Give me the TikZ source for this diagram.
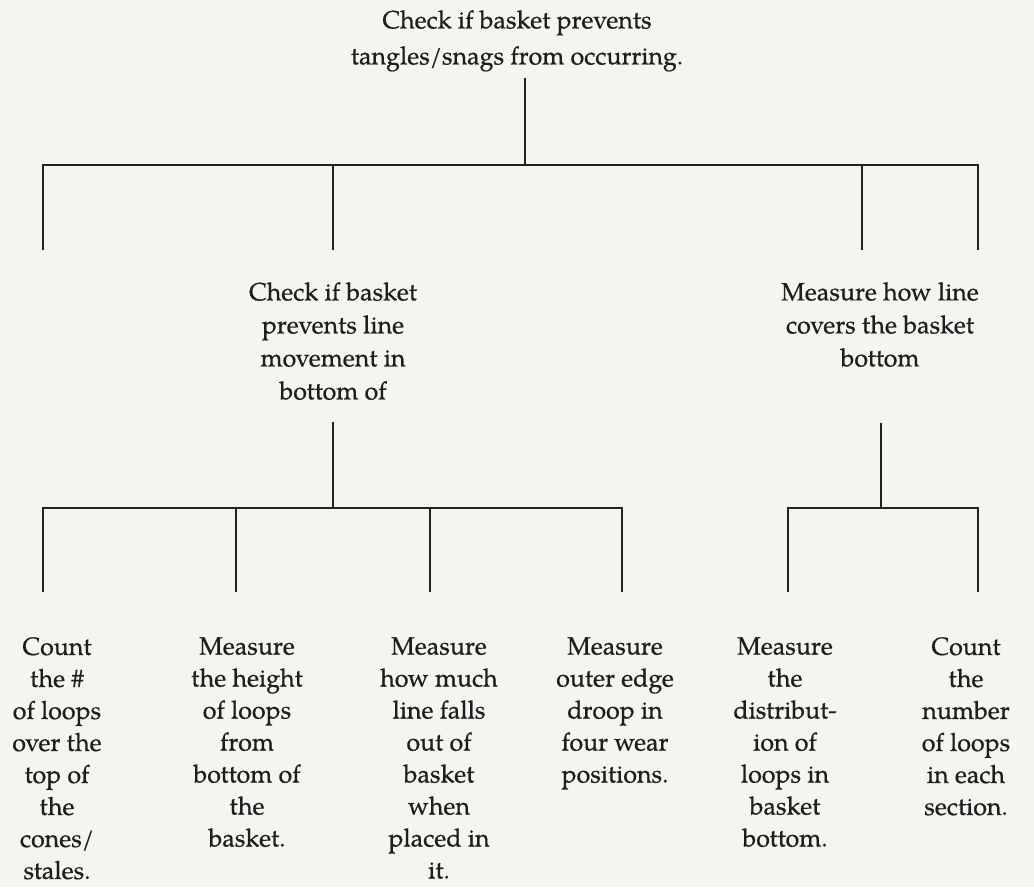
\documentclass[tikz,border=0pt]{standalone}
\usepackage{fontspec}
\setmainfont{TeX Gyre Pagella}[FakeBold=0.6]
\definecolor{bgcol}{RGB}{244,244,240}
\definecolor{inkcol}{RGB}{34,34,34}
\definecolor{txtcol}{RGB}{30,30,30}
\begin{document}
\begin{tikzpicture}[x=1pt,y=-1pt,
  conn/.style={draw=inkcol, line width=2.4pt, line cap=butt},
  lbl/.style={align=center, inner sep=0pt, text=txtcol, font=\fontsize{25}{32}\selectfont},
  midl/.style={lbl, font=\fontsize{25}{33}\selectfont},
  ttl/.style={lbl, font=\fontsize{25}{36}\selectfont}]
\fill[bgcol] (0,0) rectangle (1034,887);
\useasboundingbox (0,0) rectangle (1034,887);
% texts
\node[ttl, anchor=north] (root) at (517,10) {Check if basket prevents\\tangles/snags from occurring.};
\node[midl, anchor=north] (mid1) at (333,282) {Check if basket\\prevents line\\movement in\\bottom of};
\node[midl, anchor=north] (mid2) at (880,282) {Measure how line\\covers the basket\\bottom};
\node[lbl, anchor=north] (l1) at (57,637) {Count\\the \#\\of loops\\over the\\top of\\the\\cones/\\stales.};
\node[lbl, anchor=north] (l2) at (247,637) {Measure\\the height\\of loops\\from\\bottom of\\the\\basket.};
\node[lbl, anchor=north] (l3) at (439,637) {Measure\\how much\\line falls\\out of\\basket\\when\\placed in\\it.};
\node[lbl, anchor=north] (l4) at (615,637) {Measure\\outer edge\\droop in\\four wear\\positions.};
\node[lbl, anchor=north] (l5) at (785,637) {Measure\\the\\distribut-\\ion of\\loops in\\basket\\bottom.};
\node[lbl, anchor=north] (l6) at (966,637) {Count\\the\\number\\of loops\\in each\\section.};
% junction coordinates
\coordinate (rt) at (525,78);
\coordinate (rj) at (525,165);
\coordinate (ra) at (43,165);  \coordinate (rae) at (43,250);
\coordinate (rb) at (333,165); \coordinate (rbe) at (333,250);
\coordinate (rc) at (862,165); \coordinate (rce) at (862,250);
\coordinate (rd) at (978,165); \coordinate (rde) at (978,250);
\coordinate (m1t) at (333,422); \coordinate (m1j) at (333,508);
\coordinate (m2t) at (881,423); \coordinate (m2j) at (881,508);
\coordinate (a1) at (43,508);  \coordinate (a1e) at (43,592);
\coordinate (a2) at (236,508); \coordinate (a2e) at (236,592);
\coordinate (a3) at (430,508); \coordinate (a3e) at (430,592);
\coordinate (a4) at (622,508); \coordinate (a4e) at (622,592);
\coordinate (b1) at (788,508); \coordinate (b1e) at (788,592);
\coordinate (b2) at (978,508); \coordinate (b2e) at (978,592);
% connectors
\draw[conn] (rt) -- (rj);
\draw[conn] (rae) -- (ra) -- (rd) -- (rde);
\draw[conn] (rb) -- (rbe);
\draw[conn] (rc) -- (rce);
\draw[conn] (m1t) -- (m1j);
\draw[conn] (a1e) -- (a1) -- (a4) -- (a4e);
\draw[conn] (a2) -- (a2e);
\draw[conn] (a3) -- (a3e);
\draw[conn] (m2t) -- (m2j);
\draw[conn] (b1e) -- (b1) -- (b2) -- (b2e);
\end{tikzpicture}
\end{document}
